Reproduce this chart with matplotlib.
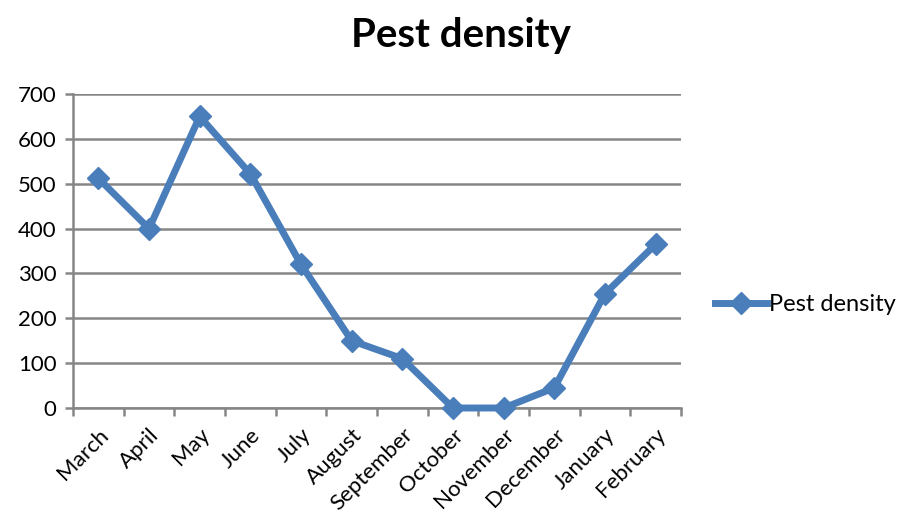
import numpy as np
import matplotlib.pyplot as plt
from matplotlib.ticker import FixedLocator, MultipleLocator

months = ["March", "April", "May", "June", "July", "August", "September",
          "October", "November", "December", "January", "February"]
pest_density = [512, 400, 650, 522, 320, 150, 110, 0, 0, 45, 255, 365]

plt.rcParams['font.family'] = ['Lato', 'DejaVu Sans']

line_color = '#4A7EBB'
grid_color = '#868686'

fig = plt.figure(figsize=(9.04, 5.22), dpi=100)
ax = fig.add_axes([0.0808, 0.2184, 0.6725, 0.6015])

x = np.arange(len(months))
ax.plot(x, pest_density, color=line_color, linewidth=5, marker='D',
        markersize=11, markerfacecolor=line_color, markeredgecolor=line_color,
        label='Pest density', solid_joinstyle='round', zorder=3, clip_on=False)

ax.set_xlim(-0.5, len(months) - 0.5)
ax.set_ylim(0, 700)
ax.yaxis.set_major_locator(MultipleLocator(100))
ax.grid(axis='y', color=grid_color, linewidth=1.8)
ax.set_axisbelow(True)

# category labels at centres, tick marks at the boundaries
ax.set_xticks(x)
ax.set_xticklabels(months, rotation=45, ha='right', rotation_mode='anchor', fontsize=16)
ax.xaxis.set_minor_locator(FixedLocator(np.arange(-0.5, len(months), 1.0)))
ax.tick_params(axis='x', which='major', length=0, pad=12)
ax.tick_params(axis='x', which='minor', length=6, width=1.8, color=grid_color)
ax.tick_params(axis='y', length=6, width=1.8, color=grid_color, labelsize=16, pad=6)

for side in ['top', 'right']:
    ax.spines[side].set_visible(False)
for side in ['left', 'bottom']:
    ax.spines[side].set_color(grid_color)
    ax.spines[side].set_linewidth(1.8)

fig.text(0.51, 0.932, 'Pest density', ha='center', va='center',
         fontsize=29, fontweight='bold')

ax.legend(loc='center left', bbox_to_anchor=(1.04, 0.33), frameon=False,
          fontsize=17, handlelength=2.2, handletextpad=0.1, borderaxespad=0)

fig.savefig('out.png', dpi=100)
